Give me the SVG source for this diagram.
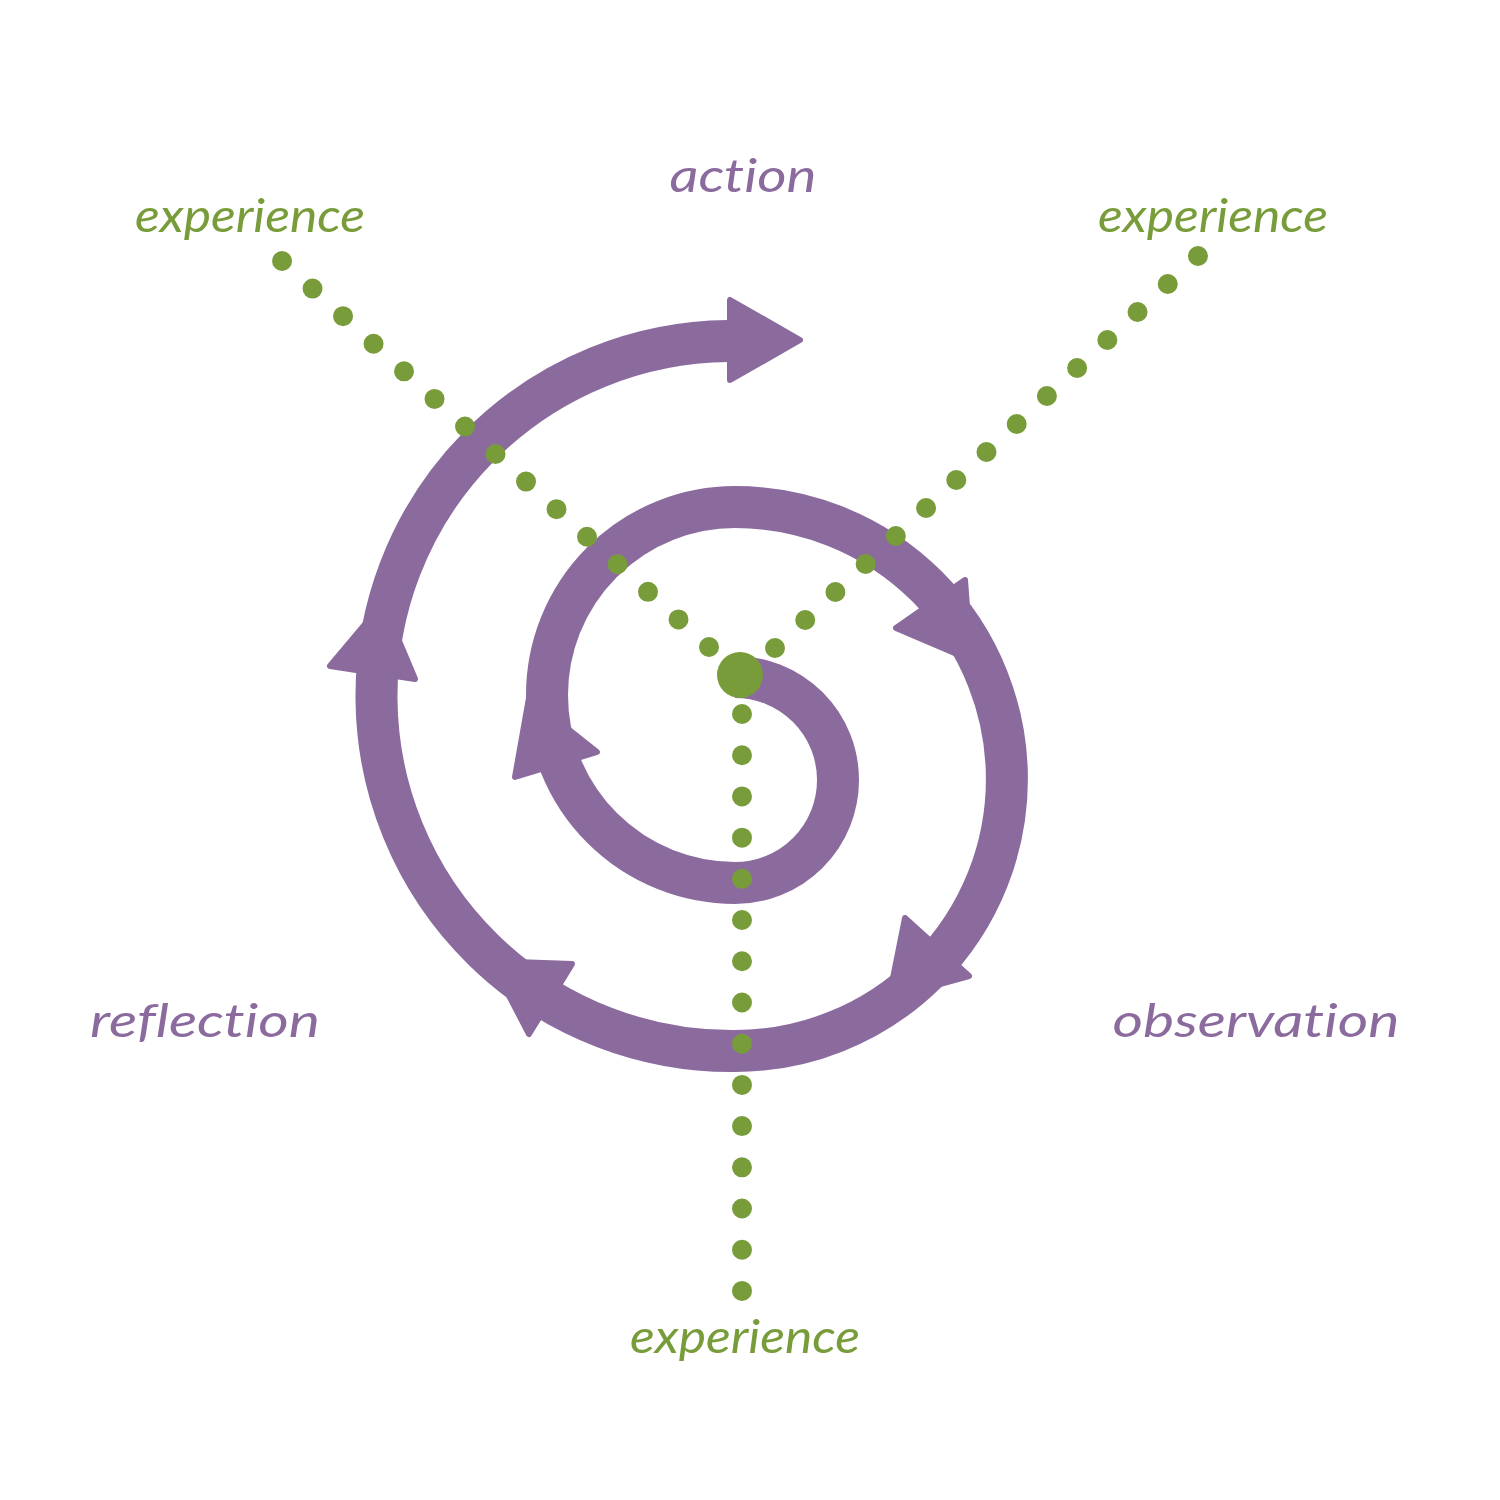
<svg xmlns="http://www.w3.org/2000/svg" width="1500" height="1500" viewBox="0 0 1500 1500">
  <style>
    .spiral { fill: none; stroke: #8B6B9E; stroke-width: 42; }
    .head { fill: #8B6B9E; stroke: #8B6B9E; stroke-width: 6; stroke-linejoin: round; }
    .dots { fill: none; stroke: #789C3A; stroke-width: 20; stroke-linecap: round; }
    .lbl { font-family: "Lato", "Open Sans", "Liberation Sans", sans-serif; font-style: italic; font-size: 46px; text-anchor: middle; font-variant-ligatures: none; font-feature-settings: "liga" 0; }
    .purple { fill: #8B6B9E; }
    .green { fill: #789C3A; }
  </style>
  <rect width="1500" height="1500" fill="#FFFFFF"/>
  <g id="spiral">
    <path class="spiral" d="M 735 677 A 103 103 0 0 1 735 883 A 188 188 0 0 1 735 507 A 272 272 0 0 1 735 1051 A 355 355 0 0 1 728 341"/>
    <polygon class="head" points="515,777 597,752 529,698"/>
    <polygon class="head" points="965,580 896,628 971,660"/>
    <polygon class="head" points="905,918 969,976 889,998"/>
    <polygon class="head" points="572,964 529,1034 491,961"/>
    <polygon class="head" points="330,666 415,679 383,603"/>
    <polygon class="head" points="730,300 730,380 800,340"/>
  </g>
  <g id="connectors">
    <line class="dots" x1="742" y1="714" x2="742" y2="1291" stroke-dasharray="0 41.21"/>
    <line class="dots" x1="709" y1="647" x2="282" y2="261" stroke-dasharray="0 41.11"/>
    <line class="dots" x1="775" y1="648" x2="1198" y2="256" stroke-dasharray="0 41.19"/>
  </g>
  <g id="center">
    <circle cx="740" cy="675" r="23" fill="#789C3A"/>
  </g>
  <g id="label-action"><text class="lbl purple" x="743" y="192" textLength="147" lengthAdjust="spacingAndGlyphs">action</text></g>
  <g id="label-reflection"><text class="lbl purple" x="205" y="1037" textLength="230" lengthAdjust="spacingAndGlyphs">reflection</text></g>
  <g id="label-observation"><text class="lbl purple" x="1256" y="1037" textLength="287" lengthAdjust="spacingAndGlyphs">observation</text></g>
  <g id="label-experience-left"><text class="lbl green" x="250" y="232" font-size="42" textLength="230" lengthAdjust="spacingAndGlyphs">experience</text></g>
  <g id="label-experience-right"><text class="lbl green" x="1213" y="232" font-size="42" textLength="230" lengthAdjust="spacingAndGlyphs">experience</text></g>
  <g id="label-experience-bottom"><text class="lbl green" x="745" y="1353" font-size="42" textLength="230" lengthAdjust="spacingAndGlyphs">experience</text></g>
</svg>
